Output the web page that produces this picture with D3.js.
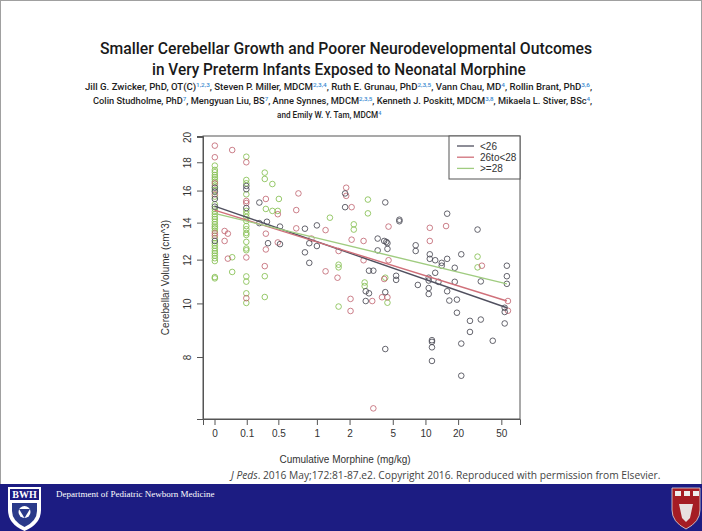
<!DOCTYPE html>
<html><head><meta charset="utf-8">
<script src="https://cdn.jsdelivr.net/npm/d3@7/dist/d3.min.js"></script>
<style>body{margin:0;background:#fff}svg{display:block}</style>
</head><body>
<svg id="c" width="702" height="531"></svg>
<script>
// x values are on the plot's log-like morphine axis (log10 units, 0 mg/kg placed at left)
const xTickValues = [-0.943, -0.646, -0.355, 0, 0.301, 0.699, 1, 1.301, 1.699];
const xTickLabels = ["0","0.1","0.5","1","2","5","10","20","50"];
const yTicks = [8,10,12,14,16,18,20];
const seriesNames = ["<26","26to<28",">=28"];

const dataLt26 = [
[-0.94,16.19],[-0.94,15.93],[-0.94,15.45],[-0.94,14.96],[-0.94,12.97],
[-0.65,16.31],[-0.65,16.09],[-0.65,14.88],
[-0.53,15.22],[-0.53,13.97],[-0.46,14.05],[-0.34,13.77],[-0.45,12.85],[-0.34,12.80],
[-0.11,13.65],[0.00,13.84],[0.26,15.81],[0.26,14.93],[0.63,15.23],[0.56,13.10],[0.62,12.97],[0.64,12.92],
[0.65,12.85],[0.65,12.55],[0.56,12.47],[-0.07,12.85],[0.00,12.70],[-0.11,12.37],[-0.07,11.84],
[0.48,11.46],[0.52,11.46],[0.73,11.22],[0.73,11.03],[0.45,10.52],[0.48,10.43],[0.45,10.10],[0.63,10.48],[0.63,8.27],
[1.06,8.58],[1.06,8.52],[1.06,8.33],[1.06,7.87],[1.22,10.12],[1.29,9.62],[1.41,9.30],[1.51,9.35],[1.41,8.88],
[1.33,8.46],[1.33,7.40],[1.62,8.56],[1.73,9.65],[1.73,9.20],[1.73,9.82],[0.76,14.17],[0.76,14.08],[1.20,14.53],
[1.48,13.60],[0.91,12.74],[0.91,12.44],[1.04,12.27],[1.04,12.04],[1.09,11.97],[1.15,11.84],[1.15,11.70],
[1.20,12.04],[1.27,11.60],[1.33,12.27],[1.09,11.36],[1.03,11.13],[1.03,11.00],[1.12,10.94],[0.93,10.80],
[1.03,10.66],[1.03,10.40],[1.20,10.52],[1.27,10.94],[1.29,10.16],[1.51,10.96],[1.75,11.70],[1.75,11.20],[1.75,10.85]
];
const data26to28 = [
[-0.94,19.29],[-0.94,18.38],[-0.94,16.49],[-0.94,15.75],[-0.94,13.39],[-0.94,13.26],
[-0.85,13.52],[-0.82,13.37],[-0.85,12.97],[-0.82,12.05],[-0.78,18.94],
[-0.65,18.00],[-0.65,15.32],[-0.65,15.19],[-0.65,12.11],[-0.65,10.22],
[-0.47,15.45],[-0.36,14.50],[-0.47,13.37],[-0.36,12.89],[-0.47,12.52],[-0.48,11.68],
[-0.17,15.81],[-0.19,14.75],[-0.19,13.67],[0.08,13.57],[0.27,16.19],[0.27,15.65],[0.32,14.93],[0.66,13.77],
[0.32,13.04],[0.43,12.97],[-0.05,13.10],[0.20,12.44],[0.08,11.43],[0.19,11.13],[0.43,11.97],[0.66,11.97],
[0.62,11.07],[0.51,10.10],[0.60,10.26],[0.65,10.26],[0.31,10.19],[0.31,9.69],[0.52,6.46],
[1.04,13.70],[1.19,13.80],[1.04,12.97],[1.52,11.70],[1.76,10.10],[1.76,9.70]
];
const dataGe28 = [
[-0.94,17.75],[-0.94,17.43],[-0.94,17.27],[-0.94,17.07],[-0.94,16.91],[-0.94,16.77],[-0.94,16.60],[-0.94,16.33],
[-0.94,16.04],[-0.94,15.60],[-0.94,15.11],[-0.94,14.82],[-0.94,14.65],[-0.94,14.50],[-0.94,14.35],[-0.94,14.21],
[-0.94,14.05],[-0.94,13.90],[-0.94,13.77],[-0.94,13.67],[-0.94,13.52],[-0.94,13.12],[-0.94,12.85],[-0.94,12.72],
[-0.94,12.58],[-0.94,12.44],[-0.94,12.32],[-0.94,12.20],[-0.94,12.07],[-0.94,11.93],[-0.94,11.10],[-0.94,11.16],
[-0.78,12.12],[-0.78,11.40],
[-0.65,18.42],[-0.65,16.72],[-0.65,16.49],[-0.65,15.75],[-0.65,14.70],[-0.65,14.52],[-0.65,14.33],[-0.65,14.10],
[-0.65,13.80],[-0.65,13.62],[-0.65,13.41],[-0.65,13.30],[-0.65,12.92],[-0.65,12.57],[-0.65,12.48],[-0.65,11.19],
[-0.65,10.95],[-0.65,10.43],[-0.65,10.02],
[-0.48,17.24],[-0.48,16.79],[-0.41,16.44],[-0.35,15.45],[-0.41,14.70],[-0.36,14.70],[-0.47,14.82],[-0.48,11.20],[-0.48,10.27],
[0.12,14.29],[0.47,15.41],[0.47,14.55],[0.34,13.90],[0.34,13.60],[0.20,11.75],[0.20,11.62],[0.63,11.13],
[0.44,10.91],[0.44,10.75],[0.65,10.03],[0.20,9.87],
[1.48,12.15],[1.48,11.62]
];
// fitted lines: endpoints in data units
const fitX = [-0.943, 1.75];
const fitLt26 = [15.0, 9.82];
const fit26to28 = [14.75, 10.1];
const fitGe28 = [14.55, 10.85];

const pointColors = ["#4a4a55", "#b8505e", "#86c052"];
const lineColors = ["#50505f", "#d0707a", "#a0cc80"];

const svg = d3.select("#c");
svg.append("rect").attr("x",0.5).attr("y",0.5).attr("width",701).attr("height",484)
  .attr("fill","#fff").attr("stroke","#a0a0a0");

function fitWidth(sel, x0, y0, w){
  const bb = sel.node().getBBox();
  const s = w / bb.width;
  sel.attr("x",0).attr("y",0).attr("transform",`translate(${x0 - bb.x*s},${y0}) scale(${s},1)`);
}

const tf = "Roboto,'Liberation Sans',Arial,sans-serif";
const title1 = "Smaller Cerebellar Growth and Poorer Neurodevelopmental Outcomes";
const title2 = "in Very Preterm Infants Exposed to Neonatal Morphine";
const t1 = svg.append("text").attr("font-family",tf).attr("font-size",17).attr("font-weight",500).attr("fill","#1a1a1a").text(title1);
fitWidth(t1, 100, 54, 493);
const t2 = svg.append("text").attr("font-family",tf).attr("font-size",17).attr("font-weight",500).attr("fill","#1a1a1a").text(title2);
fitWidth(t2, 152, 75, 374);

const authorLines = [
  {x:85, y:90, w:508, parts:[["Jill G. Zwicker, PhD, OT(C)","1,2,3"],[", Steven P. Miller, MDCM","2,3,4"],[", Ruth E. Grunau, PhD","2,3,5"],[", Vann Chau, MD","4"],[", Rollin Brant, PhD","3,6"],[",",""]]},
  {x:93, y:104, w:500, parts:[["Colin Studholme, PhD","7"],[", Mengyuan Liu, BS","7"],[", Anne Synnes, MDCM","2,3,5"],[", Kenneth J. Poskitt, MDCM","3,8"],[", Mikaela L. Stiver, BSc","4"],[",",""]]},
  {x:277, y:118, w:105, parts:[["and Emily W. Y. Tam, MDCM","4"]]}
];
authorLines.forEach(l=>{
  const t = svg.append("text").attr("font-family",tf).attr("font-size",9).attr("font-weight",500).attr("fill","#1e1e1e");
  let shifted = false;
  l.parts.forEach(p=>{
    const a = t.append("tspan").text(p[0]);
    if(shifted){ a.attr("dy",3); shifted=false; }
    if(p[1]){
      t.append("tspan").attr("dy",-3).attr("font-size",6).attr("fill","#3a8ad0").text(p[1]);
      shifted = true;
    }
  });
  fitWidth(t, l.x, l.y, l.w);
});

const L=203, R=520, T=136, B=419;
const x = d3.scaleLinear().domain([-1.049, 1.871]).range([L, R]);
const y = d3.scaleLog().domain([6.18, 20.08]).range([B, T]);
const af = "'Liberation Sans',Arial,Helvetica,sans-serif";

const g = svg.append("g");
const groups = [dataGe28, data26to28, dataLt26];
const gColors = [pointColors[2], pointColors[1], pointColors[0]];
const gOp = [0.85, 0.72, 0.85];
groups.forEach((d,i)=>{
  g.append("g").selectAll("circle").data(d).join("circle")
    .attr("cx",p=>x(p[0])).attr("cy",p=>y(p[1])).attr("r",2.8)
    .attr("fill","none").attr("stroke",gColors[i]).attr("stroke-width",1).attr("stroke-opacity",gOp[i]);
});
const line = d3.line().x(p=>x(p[0])).y(p=>y(p[1]));
[fitLt26, fit26to28, fitGe28].forEach((f,i)=>{
  g.append("path").attr("d",line(fitX.map((xx,j)=>[xx,f[j]]))).attr("fill","none")
   .attr("stroke",lineColors[i]).attr("stroke-width",1.4);
});

svg.append("rect").attr("x",L).attr("y",T).attr("width",R-L).attr("height",B-T)
  .attr("fill","none").attr("stroke","#555").attr("stroke-width",1);

const xAxis = d3.axisBottom(x).tickValues(xTickValues).tickFormat((d,i)=>xTickLabels[i]).tickSize(6).tickPadding(5);
const xg = svg.append("g").attr("transform",`translate(0,${B})`).call(xAxis);
xg.select(".domain").attr("stroke","#555");
xg.selectAll(".tick line").attr("stroke","#555");
xg.selectAll("text").attr("font-family",af).attr("font-size",10).attr("fill","#333");

const yAxis = d3.axisLeft(y).tickValues(yTicks).tickFormat(d3.format("d")).tickSize(6).tickPadding(0);
const yg = svg.append("g").attr("transform",`translate(${L},0)`).call(yAxis);
yg.select(".domain").attr("stroke","#555");
yg.selectAll(".tick line").attr("stroke","#555");
yg.selectAll("text").attr("font-family",af).attr("font-size",10).attr("fill","#333")
  .attr("x",0).attr("dy",null).attr("text-anchor","middle").attr("dominant-baseline","central")
  .attr("transform","translate(-16,0) rotate(-90)");

svg.append("text").attr("x",345).attr("y",463).attr("text-anchor","middle").attr("font-family",af)
  .attr("font-size",10).attr("fill","#333").text("Cumulative Morphine (mg/kg)");
svg.append("text").attr("transform",`translate(169,${(T+B)/2}) rotate(-90)`).attr("text-anchor","middle")
  .attr("font-family",af).attr("font-size",10).attr("fill","#333").text("Cerebellar Volume (cm^3)");

const lg = svg.append("g");
lg.append("rect").attr("x",449).attr("y",T).attr("width",R-449).attr("height",43)
  .attr("fill","#fff").attr("stroke","#555");
seriesNames.forEach((s,i)=>{
  const yy = 146 + i*11.2;
  lg.append("line").attr("x1",457).attr("x2",474).attr("y1",yy).attr("y2",yy)
    .attr("stroke",lineColors[i]).attr("stroke-width",1.3);
  lg.append("text").attr("x",480).attr("y",yy).attr("dominant-baseline","central")
    .attr("font-family",af).attr("font-size",10).attr("fill","#333").text(s);
});

const cit = svg.append("text").attr("font-family","'Open Sans','Noto Sans',sans-serif")
  .attr("font-size",10).attr("fill","#444");
cit.append("tspan").attr("font-style","italic").text("J Peds");
cit.append("tspan").text(". 2016 May;172:81-87.e2. Copyright 2016. Reproduced with permission from Elsevier.");
fitWidth(cit, 229, 479, 432);

svg.append("rect").attr("x",0).attr("y",484).attr("width",702).attr("height",47).attr("fill","#1c1c82");
svg.append("text").attr("x",56).attr("y",497).attr("font-family","'Liberation Serif','Times New Roman',serif")
  .attr("font-size",9).attr("fill","#fff").text("Department of Pediatric Newborn Medicine");
const bw = svg.append("g");
bw.append("path").attr("d","M8,487 L41,487 L41,510 Q41,524 24.5,531 Q8,524 8,510 Z").attr("fill","#fff");
bw.append("rect").attr("x",10).attr("y",489).attr("width",29).attr("height",11).attr("fill","#1c1c82");
bw.append("text").attr("x",24.5).attr("y",498).attr("text-anchor","middle").attr("font-family","'Liberation Serif',serif")
  .attr("font-weight","bold").attr("font-size",10).attr("fill","#fff").text("BWH");
bw.append("path").attr("d","M12,503 L37,503 L37,511 Q37,521 24.5,527 Q12,521 12,511 Z").attr("fill","#2a3a8a");
bw.append("circle").attr("cx",24.5).attr("cy",512).attr("r",6).attr("fill","#fff");
bw.append("path").attr("d","M19,509 L30,509 L24.5,518 Z").attr("fill","#2a3a8a");
const hv = svg.append("g");
hv.append("path").attr("d","M672,488 L700,488 L700,510 Q700,522 686,529 Q672,522 672,510 Z").attr("fill","#a51c24").attr("stroke","#ddd").attr("stroke-width",0.8);
[675,684,693].forEach(xx=>hv.append("rect").attr("x",xx).attr("y",491).attr("width",6).attr("height",5).attr("fill","#eee"));
hv.append("path").attr("d","M679,504 L693,504 L690,518 L686,522 L682,518 Z").attr("fill","#e8e0e0");
</script>
</body></html>
